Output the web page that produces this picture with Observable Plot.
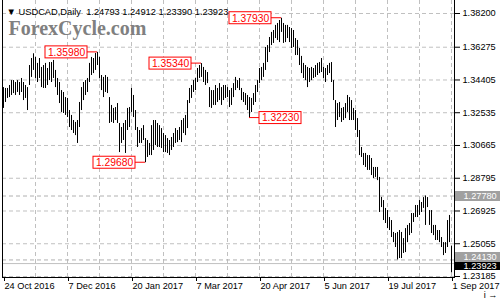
<!DOCTYPE html>
<html><head><meta charset="utf-8">
<script src="https://cdn.jsdelivr.net/npm/d3@7"></script>
<script src="https://cdn.jsdelivr.net/npm/@observablehq/plot@0.6"></script>
<style>html,body{margin:0;padding:0;background:#fff;}</style>
</head><body><div id="chart"></div>
<script>
// Daily high / low of USDCAD, one bar per trading day, 24 Oct 2016 .. 1 Sep 2017
const high = [
1.3397,1.3392,1.3392,1.3409,1.3437,1.3437,1.3426,1.3437,1.3426,1.3449,
1.3426,1.3409,1.3397,1.3523,1.3563,1.3590,1.3569,1.3535,1.3563,1.3512,
1.3523,1.3535,1.3506,1.3540,1.3540,1.3552,1.3495,1.3449,1.3426,1.3380,
1.3369,1.3340,1.3335,1.3266,1.3238,1.3209,1.3198,1.3209,1.3312,1.3397,
1.3426,1.3437,1.3449,1.3535,1.3569,1.3563,1.3592,1.3598,1.3569,1.3466,
1.3455,1.3466,1.3455,1.3340,1.3295,1.3278,1.3283,1.3306,1.3192,1.3169,
1.3192,1.3209,1.3278,1.3283,1.3392,1.3352,1.3266,1.3169,1.3152,1.3163,
1.3180,1.3106,1.3095,1.3078,1.3180,1.3209,1.3209,1.3192,1.3180,1.3163,
1.3135,1.3123,1.3106,1.3095,1.3112,1.3135,1.3163,1.3152,1.3169,1.3209,
1.3220,1.3238,1.3323,1.3392,1.3409,1.3437,1.3449,1.3506,1.3523,1.3534,
1.3512,1.3495,1.3483,1.3397,1.3380,1.3380,1.3409,1.3392,1.3420,1.3397,
1.3409,1.3409,1.3397,1.3380,1.3392,1.3420,1.3455,1.3437,1.3449,1.3392,
1.3369,1.3363,1.3352,1.3340,1.3335,1.3363,1.3409,1.3437,1.3506,1.3512,
1.3535,1.3626,1.3637,1.3683,1.3712,1.3723,1.3752,1.3763,1.3780,1.3793,
1.3763,1.3752,1.3752,1.3740,1.3734,1.3723,1.3677,1.3666,1.3620,1.3575,
1.3535,1.3523,1.3512,1.3506,1.3512,1.3506,1.3523,1.3535,1.3540,1.3563,
1.3512,1.3506,1.3523,1.3535,1.3540,1.3437,1.3323,1.3306,1.3312,1.3278,
1.3283,1.3306,1.3352,1.3340,1.3323,1.3278,1.3266,1.3220,1.3152,1.3055,
1.3021,1.3021,1.3009,1.3009,1.2992,1.2941,1.2941,1.2941,1.2884,1.2770,
1.2752,1.2707,1.2695,1.2655,1.2638,1.2570,1.2564,1.2570,1.2581,1.2570,
1.2535,1.2592,1.2610,1.2621,1.2678,1.2678,1.2724,1.2724,1.2752,1.2741,
1.2769,1.2778,1.2769,1.2695,1.2695,1.2610,1.2610,1.2581,1.2581,1.2541,
1.2512,1.2512,1.2638,1.2667,1.24912
];
const low = [
1.3278,1.3312,1.3335,1.3340,1.3352,1.3363,1.3352,1.3369,1.3352,1.3369,
1.3323,1.3335,1.3266,1.3409,1.3455,1.3495,1.3449,1.3426,1.3449,1.3397,
1.3392,1.3392,1.3409,1.3437,1.3426,1.3449,1.3397,1.3352,1.3306,1.3255,
1.3249,1.3238,1.3226,1.3169,1.3152,1.3135,1.3123,1.3078,1.3169,1.3266,
1.3323,1.3352,1.3369,1.3426,1.3466,1.3477,1.3495,1.3523,1.3449,1.3380,
1.3340,1.3369,1.3363,1.3192,1.3198,1.3192,1.3209,1.3192,1.3026,1.3078,
1.3095,1.3021,1.3152,1.3169,1.3255,1.3226,1.3152,1.3055,1.3078,1.3078,
1.3095,1.2968,1.2998,1.3009,1.3009,1.3038,1.3066,1.3055,1.3055,1.3049,
1.3026,1.3026,1.3021,1.3009,1.3038,1.3055,1.3078,1.3083,1.3095,1.3083,
1.3135,1.3123,1.3163,1.3306,1.3335,1.3369,1.3380,1.3426,1.3449,1.3455,
1.3426,1.3409,1.3420,1.3283,1.3278,1.3295,1.3295,1.3312,1.3323,1.3295,
1.3323,1.3335,1.3340,1.3283,1.3295,1.3340,1.3380,1.3392,1.3380,1.3323,
1.3312,1.3295,1.3266,1.3223,1.3255,1.3295,1.3312,1.3369,1.3420,1.3437,
1.3455,1.3495,1.3540,1.3597,1.3637,1.3649,1.3677,1.3666,1.3654,1.3712,
1.3649,1.3654,1.3677,1.3654,1.3620,1.3626,1.3580,1.3580,1.3523,1.3477,
1.3449,1.3437,1.3397,1.3426,1.3437,1.3449,1.3455,1.3466,1.3477,1.3483,
1.3449,1.3426,1.3466,1.3477,1.3426,1.3323,1.3169,1.3209,1.3226,1.3198,
1.3209,1.3220,1.3255,1.3209,1.3209,1.3209,1.3152,1.3112,1.3009,1.2998,
1.2952,1.2941,1.2924,1.2924,1.2895,1.2878,1.2884,1.2866,1.2684,1.2712,
1.2638,1.2621,1.2592,1.2581,1.2541,1.2512,1.2484,1.2413,1.2421,1.2421,
1.2450,1.2455,1.2512,1.2552,1.2564,1.2627,1.2655,1.2655,1.2667,1.2684,
1.2707,1.2610,1.2712,1.2610,1.2564,1.2552,1.2524,1.2524,1.2512,1.2484,
1.2438,1.2450,1.2484,1.2512,1.2339
];
const lastOHLC = [1.24793, 1.24912, 1.23390, 1.23923];
const symbol = "USDCAD,Daily";
const watermark = "ForexCycle.com";
const xTickIndex = [0, 32, 64, 96, 128, 160, 192, 224];
const xTickLabels = ["24 Oct 2016","7 Dec 2016","20 Jan 2017","7 Mar 2017","20 Apr 2017","5 Jun 2017","19 Jul 2017","1 Sep 2017"];
const xGridIndex = [16,32,48,64,80,96,112,128,144,160,176,192,208,224];
const yTicks = [1.23185, 1.25055, 1.26925, 1.28795, 1.30665, 1.32535, 1.34405, 1.36275, 1.38200];
const labelIndex = [47, 71, 99, 123, 139];
const labelPrice = [1.3598, 1.2968, 1.3534, 1.3223, 1.3793];
const labelSide = ["left", "left", "left", "right", "left"];
const levelHigh = 1.2778;
const levelLow = 1.2413;
const bidPrice = lastOHLC[3];

const bars = high.map((h, i) => ({i, high: h, low: low[i]}));
const labels = labelIndex.map((i, k) => ({i, price: labelPrice[k], side: labelSide[k], text: labelPrice[k].toFixed(5)}));
const leftL = labels.filter(d => d.side === "left");
const rightL = labels.filter(d => d.side === "right");
const red = "#ff0000";
const grid = "#c0c0c0";
const BW = 42, GAP = 10, BH = 12;
const header = symbol + "  " + lastOHLC.map(v => v.toFixed(5)).join(" ");

const chart = Plot.plot({
  width: 500, height: 300,
  marginLeft: 2, marginRight: 46, marginTop: 0, marginBottom: 23,
  style: {fontFamily: "'Liberation Sans', Arial, sans-serif", fontSize: "9.2px", background: "#fff", color: "#000"},
  x: {type: "linear", domain: [0, 224], range: [3, 451]},
  y: {type: "linear", domain: [1.23185, 1.382], range: [276, 13]},
  marks: [
    Plot.gridY(yTicks, {stroke: grid, strokeOpacity: 1, strokeDasharray: "4,3"}),
    Plot.gridX(xGridIndex, {stroke: grid, strokeOpacity: 1, strokeDasharray: "4,3"}),
    Plot.ruleY([levelHigh, levelLow], {stroke: "#b0b0b0", strokeDasharray: "4,3"}),
    Plot.ruleY([bidPrice], {stroke: "#c0c0c0"}),
    Plot.text([watermark], {frameAnchor: "top-left", text: d => d, dx: 6, dy: 34, lineAnchor: "bottom",
      fontFamily: "'Liberation Serif', serif", fontWeight: "bold", fontSize: 20, fill: "#808080"}),
    Plot.ruleX(bars, {x: "i", y1: "low", y2: "high", stroke: "#000", strokeWidth: 1}),
    Plot.frame({anchor: "left", stroke: "#000"}),
    Plot.frame({anchor: "right", stroke: "#000"}),
    Plot.frame({anchor: "bottom", stroke: "#000"}),
    Plot.axisY(yTicks, {anchor: "right", tickSize: 5, tickPadding: 3, tickFormat: d => d.toFixed(5)}),
    Plot.axisX(xTickIndex, {anchor: "bottom", tickSize: 4, tickPadding: 1, textAnchor: "start", dx: 1,
      tickFormat: d => xTickLabels[xTickIndex.indexOf(d)]}),
    // right-axis price boxes (the bid box sits partly under the 1.24130 box, as in the terminal)
    Plot.ruleY([bidPrice], {stroke: "#000", strokeWidth: 10, insetLeft: 453, insetRight: -46, dy: 1.5}),
    Plot.text([bidPrice], {y: d => d, frameAnchor: "right", dx: 9, dy: 2, textAnchor: "start", fill: "#fff", text: d => d.toFixed(5)}),
    Plot.ruleY([levelLow], {stroke: "#a0a0a0", strokeWidth: 10, insetLeft: 453, insetRight: -46, dy: -3}),
    Plot.text([levelLow], {y: d => d, frameAnchor: "right", dx: 9, dy: -3, textAnchor: "start", fill: "#fff", text: d => d.toFixed(5)}),
    Plot.ruleY([levelHigh], {stroke: "#a0a0a0", strokeWidth: 10, insetLeft: 453, insetRight: -46}),
    Plot.text([levelHigh], {y: d => d, frameAnchor: "right", dx: 9, textAnchor: "start", fill: "#fff", text: d => d.toFixed(5)}),
    // red swing labels
    Plot.rect(leftL, {x1: "i", x2: "i", y1: "price", y2: "price", insetLeft: -GAP, insetRight: 0, insetTop: -0.5, insetBottom: -0.5, fill: red}),
    Plot.rect(rightL, {x1: "i", x2: "i", y1: "price", y2: "price", insetLeft: 0, insetRight: -GAP, insetTop: -0.5, insetBottom: -0.5, fill: red}),
    Plot.rect(leftL, {x1: "i", x2: "i", y1: "price", y2: "price", insetLeft: -(GAP + BW), insetRight: GAP, insetTop: -BH / 2, insetBottom: -BH / 2, fill: "#fff", stroke: red}),
    Plot.rect(rightL, {x1: "i", x2: "i", y1: "price", y2: "price", insetLeft: GAP, insetRight: -(GAP + BW), insetTop: -BH / 2, insetBottom: -BH / 2, fill: "#fff", stroke: red}),
    Plot.text(leftL, {x: "i", y: "price", text: "text", dx: -(GAP + BW / 2), fill: red, fontSize: 10.3}),
    Plot.text(rightL, {x: "i", y: "price", text: "text", dx: GAP + BW / 2, fill: red, fontSize: 10.3}),
    // header line
    Plot.text(["\u25BC"], {frameAnchor: "top-left", text: d => d, dx: 4, dy: 14, lineAnchor: "bottom", fontSize: 9.5, fill: "#000"}),
    Plot.text([header], {frameAnchor: "top-left", text: d => d, dx: 16, dy: 14, lineAnchor: "bottom", fontSize: 9.3, fill: "#000"})
  ]
});
document.getElementById("chart").appendChild(chart);
</script>
</body></html>
